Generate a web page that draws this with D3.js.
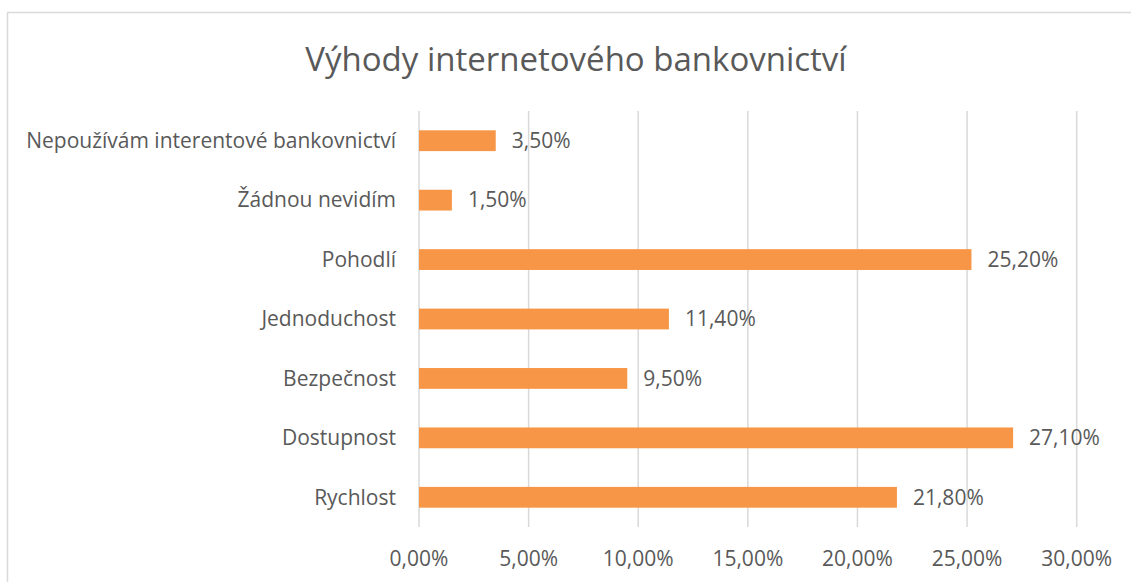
<!DOCTYPE html>
<html>
<head>
<meta charset="utf-8">
<script src="https://cdn.jsdelivr.net/npm/d3@7"></script>
<style>
  body { margin: 0; background: #fff; }
  text { font-family: "Open Sans", Lato, sans-serif; fill: #595959; }
</style>
</head>
<body>
<svg width="1131" height="582"></svg>
<script>
// categories top to bottom, as in the chart
var categories = ["Nepoužívám interentové bankovnictví", "Žádnou nevidím", "Pohodlí",
                  "Jednoduchost", "Bezpečnost", "Dostupnost", "Rychlost"];
var values = [3.5, 1.5, 25.2, 11.4, 9.5, 27.1, 21.8];
var ticks = [0, 5, 10, 15, 20, 25, 30];
var title = "Výhody internetového bankovnictví";

var svg = d3.select("svg"),
    width = +svg.attr("width"),
    height = +svg.attr("height");

var margin = {top: 111, right: 54, bottom: 55, left: 419};

// chart border (runs off the right and bottom edge)
svg.append("rect")
    .attr("x", 7.5).attr("y", 12.5)
    .attr("width", 1140).attr("height", 600)
    .attr("fill", "none")
    .attr("stroke", "#d9d9d9")
    .attr("stroke-width", 1.5);

svg.append("text")
    .attr("x", 576).attr("y", 71)
    .attr("text-anchor", "middle")
    .style("font-size", "33px")
    .text(title);

var x = d3.scaleLinear()
    .domain([0, 30])
    .range([margin.left, 1076.7]);

var y = d3.scaleBand()
    .domain(categories)
    .range([margin.top, height - margin.bottom])
    .paddingInner(0.65)
    .paddingOuter(0.325);

var fmt = function(v) { return v.toFixed(2).replace(".", ",") + "%"; };

// gridlines
svg.append("g")
    .selectAll("line")
    .data(ticks)
    .enter().append("line")
        .attr("x1", function(d) { return x(d); })
        .attr("x2", function(d) { return x(d); })
        .attr("y1", margin.top)
        .attr("y2", height - margin.bottom)
        .attr("stroke", "#d9d9d9")
        .attr("stroke-width", 1.5);

// x tick labels
svg.append("g")
    .selectAll("text")
    .data(ticks)
    .enter().append("text")
        .attr("x", function(d) { return x(d); })
        .attr("y", 566)
        .attr("text-anchor", "middle")
        .style("font-size", "21px")
        .text(fmt);

// category labels
svg.append("g")
    .selectAll("text")
    .data(categories)
    .enter().append("text")
        .attr("x", 396)
        .attr("y", function(d) { return y(d) + y.bandwidth() / 2; })
        .attr("dy", "0.35em")
        .attr("text-anchor", "end")
        .style("font-size", "21px")
        .text(function(d) { return d; });

// bars
svg.append("g")
    .selectAll("rect")
    .data(values)
    .enter().append("rect")
        .attr("x", x(0))
        .attr("y", function(d, i) { return y(categories[i]); })
        .attr("width", function(d) { return x(d) - x(0); })
        .attr("height", y.bandwidth())
        .attr("fill", "#F79646");

// value labels
svg.append("g")
    .selectAll("text")
    .data(values)
    .enter().append("text")
        .attr("x", function(d) { return x(d) + 16; })
        .attr("y", function(d, i) { return y(categories[i]) + y.bandwidth() / 2; })
        .attr("dy", "0.35em")
        .style("font-size", "21px")
        .text(fmt);
</script>
</body>
</html>
